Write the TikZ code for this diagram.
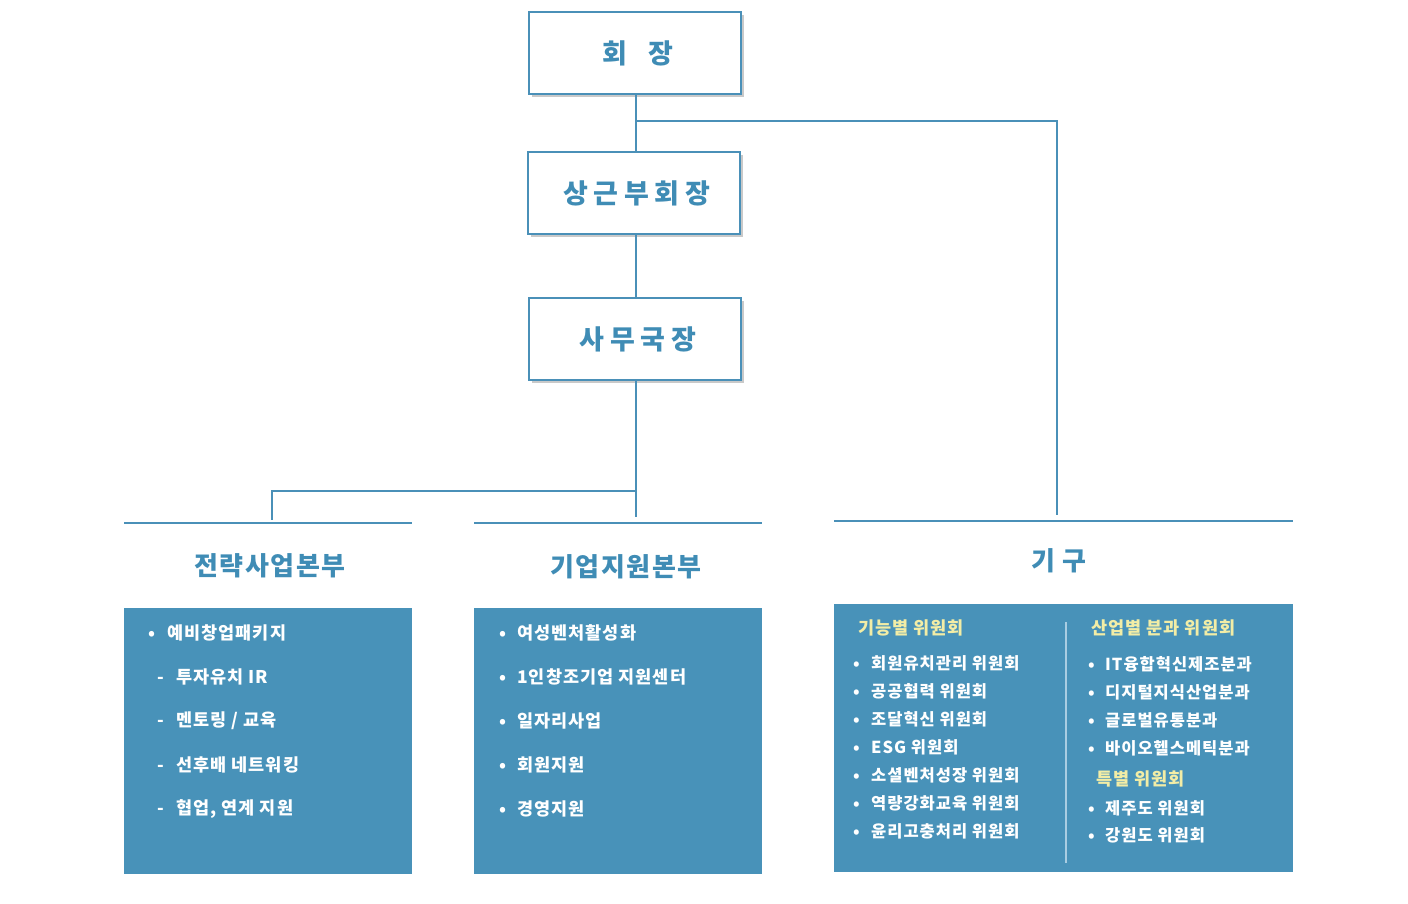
\documentclass[tikz,border=0pt]{standalone}
\usepackage{fontspec}
\setmainfont{Noto Sans CJK KR}
\usetikzlibrary{shadows}
\definecolor{lb}{HTML}{4A90B8}
\definecolor{pf}{HTML}{4892B9}
\definecolor{tb}{HTML}{3F8CB5}
\definecolor{yh}{HTML}{F2EDA6}
\definecolor{sepc}{HTML}{A9CDE2}
\newcommand{\bul}[1]{\makebox[#1][l]{•}}
\newcommand{\dsh}[1]{\makebox[#1][l]{-}}
\begin{document}
\begin{tikzpicture}[x=1pt,y=-1pt,
  topbox/.style={draw=lb, line width=2pt, fill=white, minimum width=212pt, minimum height=82pt, inner sep=0pt, text=tb,
    font=\fontsize{27}{30}\selectfont\bfseries\addfontfeatures{LetterSpace=21},
    drop shadow={opacity=0.3, shadow xshift=3pt, shadow yshift=-3pt, fill=black!70}},
  conn/.style={draw=lb, line width=2pt},
  hline/.style={draw=lb, line width=2pt},
  hdr/.style={text=tb, inner sep=0pt, font=\fontsize{26}{30}\selectfont\bfseries\addfontfeatures{LetterSpace=5.5}},
  panel/.style={fill=pf, draw=none, inner sep=0pt, anchor=north west},
  itm/.style={text=white, inner sep=0pt, anchor=west, font=\fontsize{17.5}{20}\selectfont\bfseries\addfontfeatures{LetterSpace=6}},
  itms/.style={text=white, inner sep=0pt, anchor=west, font=\fontsize{16.5}{20}\selectfont\bfseries\addfontfeatures{LetterSpace=6}},
  yhd/.style={text=yh, inner sep=0pt, anchor=west, font=\fontsize{17.5}{20}\selectfont\bfseries\addfontfeatures{LetterSpace=6}}
]
\useasboundingbox (0,0) rectangle (1408,903);

% top boxes
\node[topbox] (hz) at (635,53) {\kern5.7pt 회 \hspace{10pt}장};
\node[topbox] (sg) at (634,193) {\kern5.7pt 상근부회장};
\node[topbox] (sa) at (635,339) {\kern5.7pt 사무국장};

% junction coordinates
\coordinate (j1) at (636,121);
\coordinate (j1r) at (1057,121);
\coordinate (j1e) at (1057,515);
\coordinate (j2) at (636,491);
\coordinate (j2e) at (636,517);
\coordinate (j3) at (272,491);
\coordinate (j3e) at (272,520);

% connectors
\draw[conn] (hz.south -| j1) -- (sg.north -| j1);
\draw[conn] (sg.south -| j1) -- (sa.north -| j1);
\draw[conn] (sa.south -| j1) -- (j2e);
\draw[conn] (j1) -- (j1r) -- (j1e);
\draw[conn] (j2) -- (j3) -- (j3e);

% header lines
\coordinate (l1a) at (124,523); \coordinate (l1b) at (412,523);
\coordinate (l2a) at (474,523); \coordinate (l2b) at (762,523);
\coordinate (l3a) at (834,521); \coordinate (l3b) at (1293,521);
\draw[hline] (l1a) -- (l1b);
\draw[hline] (l2a) -- (l2b);
\draw[hline] (l3a) -- (l3b);

% headers
\node[hdr] (h1) at (270,566) {전략사업본부};
\node[hdr] (h2) at (626,567) {기업지원본부};
\node[hdr] (h3) at (1059,561) {기 구};

% panels
\node[panel, minimum width=288pt, minimum height=266pt] (p1) at (124,608) {};
\node[panel, minimum width=288pt, minimum height=266pt] (p2) at (474,608) {};
\node[panel, minimum width=459pt, minimum height=268pt] (p3) at (834,604) {};

% panel 1
\node[itm] (a1) at (148,633) {\bul{19pt}예비창업패키지};
\node[itm] (a2) at (157,677) {\dsh{19pt}투자유치 IR};
\node[itm] (a3) at (157,721) {\dsh{19pt}멘토링 / 교육};
\node[itm] (a4) at (157,765) {\dsh{19pt}선후배 네트워킹};
\node[itm] (a5) at (157,809) {\dsh{19pt}협업, 연계 지원};

% panel 2
\node[itm] (b1) at (499,633) {\bul{18pt}여성벤처활성화};
\node[itm] (b2) at (499,677) {\bul{18pt}1인창조기업 지원센터};
\node[itm] (b3) at (499,721) {\bul{18pt}일자리사업};
\node[itm] (b4) at (499,765) {\bul{18pt}회원지원};
\node[itm] (b5) at (499,809) {\bul{18pt}경영지원};

% panel 3 separator
\coordinate (s1) at (1066,622); \coordinate (s2) at (1066,863);
\draw[sepc, line width=2pt] (s1) -- (s2);

% panel 3 left
\node[yhd] (c0) at (858,628) {기능별 위원회};
\node[itms] (c1) at (853,663) {\bul{18pt}회원유치관리 위원회};
\node[itms] (c2) at (853,691) {\bul{18pt}공공협력 위원회};
\node[itms] (c3) at (853,719) {\bul{18pt}조달혁신 위원회};
\node[itms] (c4) at (853,747) {\bul{18pt}ESG 위원회};
\node[itms] (c5) at (853,775) {\bul{18pt}소셜벤처성장 위원회};
\node[itms] (c6) at (853,803) {\bul{18pt}역량강화교육 위원회};
\node[itms] (c7) at (853,831) {\bul{18pt}윤리고충처리 위원회};

% panel 3 right
\node[yhd] (d0) at (1091,628) {산업별 분과 위원회};
\node[itms] (d1) at (1088,664) {\bul{17pt}IT융합혁신제조분과};
\node[itms] (d2) at (1088,692) {\bul{17pt}디지털지식산업분과};
\node[itms] (d3) at (1088,720) {\bul{17pt}글로벌유통분과};
\node[itms] (d4) at (1088,748) {\bul{17pt}바이오헬스메틱분과};
\node[yhd] (e0) at (1096,779) {특별 위원회};
\node[itms] (e1) at (1088,808) {\bul{17pt}제주도 위원회};
\node[itms] (e2) at (1088,835) {\bul{17pt}강원도 위원회};
\end{tikzpicture}
\end{document}
